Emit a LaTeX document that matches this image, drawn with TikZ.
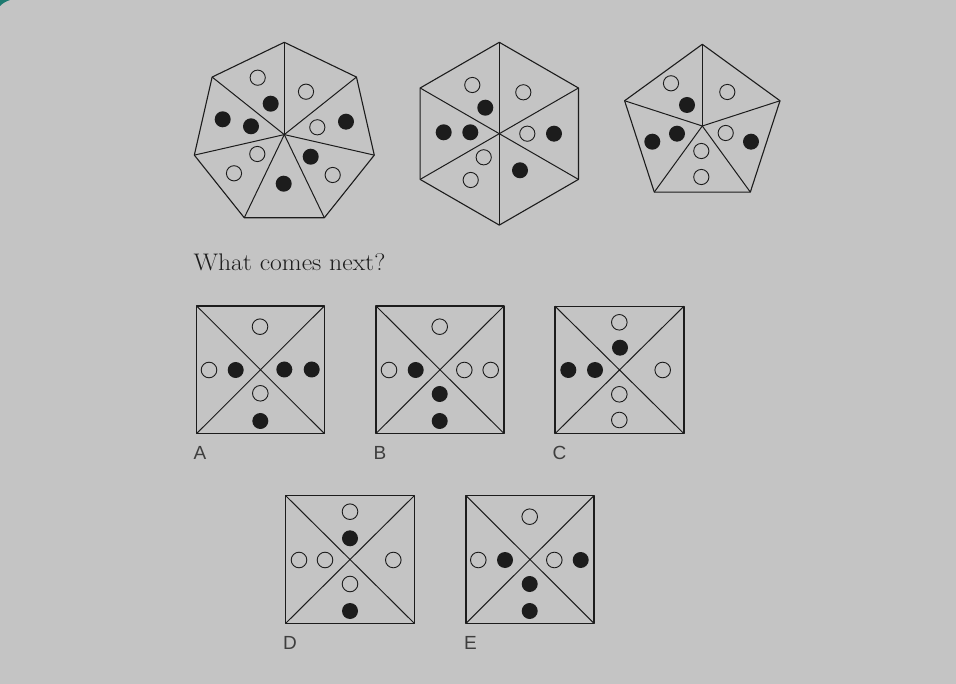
\documentclass[tikz,border=0pt]{standalone}
\usepackage{fontspec}
\usetikzlibrary{calc}
\newfontfamily\labelfont{Liberation Sans}
\definecolor{bg}{HTML}{C4C4C4}
\definecolor{ink}{HTML}{1C1C1C}
\definecolor{teal}{HTML}{1E7A70}
\begin{document}
\begin{tikzpicture}[x=1pt,y=-1pt,
  shapeline/.style={draw=ink,line width=1.1pt,line join=round},
  spoke/.style={draw=ink,line width=1pt},
  opendot/.style={draw=ink,line width=0.9pt},
  fulldot/.style={fill=ink},
  optlabel/.style={anchor=base west,inner sep=0pt,text=ink!85,font=\labelfont\fontsize{19}{19}\selectfont},
  question/.style={anchor=base west,inner sep=0pt,text=ink,font=\fontsize{24}{25}\selectfont}]
\fill[bg] (0,0) rectangle (956,684);
\useasboundingbox (0,0) rectangle (956,684);
\fill[teal] (0,0) -- (10,0) to[out=200,in=45] (0,6) -- cycle;

% ---------- heptagon ----------
\coordinate (hc) at (284.3,134.6);
\draw[shapeline] ($(hc)+(-90:92.3)$) \foreach \k in {1,...,6}{ -- ($(hc)+(-90+\k*360/7:92.3)$)} -- cycle;
\foreach \k in {0,...,6}{\draw[spoke] (hc) -- ($(hc)+(-90+\k*360/7:92.3)$);}
\foreach \p in {(257.7,77.7),(306,91.7),(317.3,127.3),(257.3,154),(234,173.3),(332.7,175)}
  {\draw[opendot] \p circle[radius=7.6];}
\foreach \p in {(270.7,103.7),(222.7,119.3),(251,126.3),(346,121.7),(310.7,156.7),(283.7,183.7)}
  {\fill[fulldot] \p circle[radius=8];}

% ---------- hexagon ----------
\coordinate (xc) at (499.3,133.7);
\draw[shapeline] ($(xc)+(-90:91.4)$) \foreach \k in {1,...,5}{ -- ($(xc)+(-90+\k*60:91.4)$)} -- cycle;
\foreach \k in {0,...,5}{\draw[spoke] (xc) -- ($(xc)+(-90+\k*60:91.4)$);}
\foreach \p in {(472.3,85),(523.3,92.3),(527.3,133.7),(483.7,157.3),(470.7,180)}
  {\draw[opendot] \p circle[radius=7.6];}
\foreach \p in {(485.3,107.7),(443.7,132.3),(470.3,132.3),(554,133.7),(520,170.3)}
  {\fill[fulldot] \p circle[radius=8];}

% ---------- pentagon ----------
\coordinate (pc) at (702.3,126);
\draw[shapeline] ($(pc)+(-90:81.7)$) \foreach \k in {1,...,4}{ -- ($(pc)+(-90+\k*72:81.7)$)} -- cycle;
\foreach \k in {0,...,4}{\draw[spoke] (pc) -- ($(pc)+(-90+\k*72:81.7)$);}
\foreach \p in {(671,83.3),(727.3,92),(725.7,133),(701.3,151),(701.3,177)}
  {\draw[opendot] \p circle[radius=7.6];}
\foreach \p in {(687,105),(677,133.7),(652.3,141.7),(751,141.7)}
  {\fill[fulldot] \p circle[radius=8];}

% ---------- question ----------
\node[question] (q) at (193.3,270.7) {\scalebox{1.07}[1]{What comes next?}};

% ---------- square A ----------
\draw[shapeline] (196.7,306) rectangle (324.3,433.5);
\draw[spoke] (196.7,306) -- (324.3,433.5) (196.7,433.5) -- (324.3,306);
\foreach \p in {(260,326.7),(209,370),(260.3,393.3)} {\draw[opendot] \p circle[radius=7.8];}
\foreach \p in {(235.7,370),(284.3,369.5),(311.7,369.5),(260.3,421)} {\fill[fulldot] \p circle[radius=8];}
\node[optlabel] (la) at (193.5,459) {A};

% ---------- square B ----------
\draw[shapeline] (376,306) rectangle (504,433.5);
\draw[spoke] (376,306) -- (504,433.5) (376,433.5) -- (504,306);
\foreach \p in {(439.7,326.7),(389,370),(464.3,370),(490.7,370)} {\draw[opendot] \p circle[radius=7.8];}
\foreach \p in {(415.7,370),(439.7,394),(439.7,421)} {\fill[fulldot] \p circle[radius=8];}
\node[optlabel] (lb) at (373.5,459) {B};

% ---------- square C ----------
\draw[shapeline] (555,306.2) rectangle (684,433.7);
\draw[spoke] (555,306.2) -- (684,433.7) (555,433.7) -- (684,306.2);
\foreach \p in {(619.3,322.3),(662.7,370),(619.3,394.3),(619.3,420)} {\draw[opendot] \p circle[radius=7.8];}
\foreach \p in {(620,347.7),(568.3,370),(595,370)} {\fill[fulldot] \p circle[radius=8];}
\node[optlabel] (lc) at (552.5,459) {C};

% ---------- square D ----------
\draw[shapeline] (285.7,495.7) rectangle (414.3,623.3);
\draw[spoke] (285.7,495.7) -- (414.3,623.3) (285.7,623.3) -- (414.3,495.7);
\foreach \p in {(350,511.7),(299,560),(325,560),(393.3,560),(350,584)} {\draw[opendot] \p circle[radius=7.8];}
\foreach \p in {(350,538.3),(350,611)} {\fill[fulldot] \p circle[radius=8];}
\node[optlabel] (ld) at (283,649.5) {D};

% ---------- square E ----------
\draw[shapeline] (466,495.7) rectangle (594,623.3);
\draw[spoke] (466,495.7) -- (594,623.3) (466,623.3) -- (594,495.7);
\foreach \p in {(529.7,516.7),(478.3,560),(554.3,560)} {\draw[opendot] \p circle[radius=7.8];}
\foreach \p in {(505,560),(580.7,560),(529.7,584),(529.7,611)} {\fill[fulldot] \p circle[radius=8];}
\node[optlabel] (le) at (464,649.5) {E};
\end{tikzpicture}
\end{document}
